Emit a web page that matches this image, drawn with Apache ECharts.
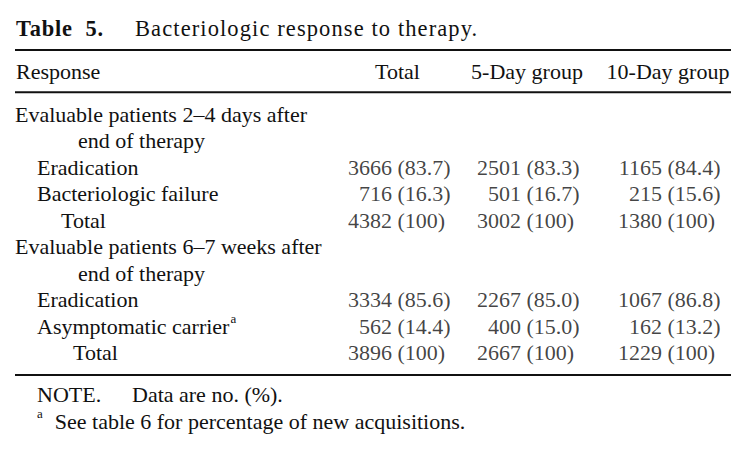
<!DOCTYPE html>
<html>
<head>
<meta charset="utf-8">
<title>Table 5</title>
<script src="https://cdn.jsdelivr.net/npm/echarts@6/dist/echarts.min.js"></script>
<style>
  html, body { margin: 0; padding: 0; background: #fff; }
  #main { width: 750px; height: 454px; }
  /* the caption is set a little loose, like the print */
  #main text[style*="22.5px"] { letter-spacing: 1.1px; }
  #main text[style*="22.4px"] { letter-spacing: 0.8px; }
</style>
</head>
<body>
<div id="main"></div>
<script>
// rows of the table (stub column)
var rowLabels = [
  'Evaluable patients 2\u20134 days after',
  'end of therapy',
  'Eradication',
  'Bacteriologic failure',
  'Total',
  'Evaluable patients 6\u20137 weeks after',
  'end of therapy',
  'Eradication',
  'Asymptomatic carrier',
  'Total'
];
var rowLevel = [0, 1, 2, 2, 3, 0, 1, 2, 2, 4];
var rowMark = ['', '', '', '', '', '', '', '', 'a', ''];

var columns = ['Total', '5-Day group', '10-Day group'];

// no. and (%) per column, one entry per row
var totalN   = [null, null, 3666, 716, 4382, null, null, 3334, 562, 3896];
var totalPct = [null, null, 83.7, 16.3, 100, null, null, 85.6, 14.4, 100];
var fiveN    = [null, null, 2501, 501, 3002, null, null, 2267, 400, 2667];
var fivePct  = [null, null, 83.3, 16.7, 100, null, null, 85.0, 15.0, 100];
var tenN     = [null, null, 1165, 215, 1380, null, null, 1067, 162, 1229];
var tenPct   = [null, null, 84.4, 15.6, 100, null, null, 86.8, 13.2, 100];

var counts = [totalN, fiveN, tenN];
var pcts = [totalPct, fivePct, tenPct];

var FONT = '"Liberation Serif", "Times New Roman", serif';
var INK = '#111';

// layout
var indent = [0, 63, 22, 46, 58];
var countShift = [0, -6, 0];
var pctShift = [5.5, -0.5, 5.5];

function fmtPct(v) {
  return v === 100 ? '100' : v.toFixed(1);
}

var rowRich = {
  sup: { fontSize: 13, padding: [0, 0, 16, 1] }
};
indent.forEach(function (w, i) {
  rowRich['l' + i] = { padding: [0, 0, 0, w] };
});

var series = [];
columns.forEach(function (col, c) {
  var cells = [];
  counts[c].forEach(function (n, r) {
    if (n != null) cells.push([c, r, n, pcts[c][r]]);
  });
  var base = {
    type: 'scatter',
    data: cells,
    symbolSize: 1,
    silent: true,
    itemStyle: { color: 'rgba(0,0,0,0)' }
  };
  series.push(Object.assign({}, base, {
    name: col + ' no.',
    label: {
      show: true, position: 'inside', align: 'right', offset: [countShift[c], 0],
      color: INK, fontFamily: FONT, fontSize: 22,
      formatter: function (p) { return String(p.value[2]); }
    }
  }));
  series.push(Object.assign({}, base, {
    name: col + ' %',
    label: {
      show: true, position: 'inside', align: 'left', offset: [pctShift[c], 0],
      color: INK, fontFamily: FONT, fontSize: 22,
      formatter: function (p) { return '(' + fmtPct(p.value[3]) + ')'; }
    }
  }));
});

var chart = echarts.init(document.getElementById('main'), null, { renderer: 'svg' });

var option = {
  animation: false,
  backgroundColor: '#fff',
  grid: { left: 324.5, right: 20.5, top: 114, bottom: 101.5, outerBoundsMode: 'none' },
  xAxis: {
    type: 'category',
    position: 'top',
    data: columns,
    boundaryGap: true,
    axisLine: { show: false },
    axisTick: { show: false },
    splitLine: { show: false },
    axisLabel: {
      interval: 0, margin: 32, color: INK, fontFamily: FONT, fontSize: 22,
      formatter: function (v, i) { return '{h' + i + '|' + v + '}'; },
      rich: {
        h0: { padding: [0, 0, 0, 11] },
        h1: {},
        h2: { padding: [0, 0, 0, 12] }
      }
    }
  },
  yAxis: {
    type: 'category',
    inverse: true,
    boundaryGap: false,
    data: rowLabels,
    axisLine: { show: false },
    axisTick: { show: false },
    splitLine: { show: false },
    axisLabel: {
      interval: 0, align: 'left', margin: 309.5,
      color: INK, fontFamily: FONT, fontSize: 22,
      formatter: function (v, i) {
        var s = '{l' + rowLevel[i] + '|' + v + '}';
        if (rowMark[i]) s += '{sup|' + rowMark[i] + '}';
        return s;
      },
      rich: rowRich
    }
  },
  graphic: [
    { type: 'text', x: 16, y: 28, silent: true,
      style: { text: 'Table  5.', font: 'bold 22.4px ' + FONT, fill: INK, verticalAlign: 'middle' } },
    { type: 'text', x: 135, y: 28, silent: true,
      style: { text: 'Bacteriologic response to therapy.', font: '22.5px ' + FONT, fill: INK, verticalAlign: 'middle' } },
    { type: 'line', silent: true, shape: { x1: 15, y1: 50, x2: 731, y2: 50 }, style: { stroke: INK, lineWidth: 2 } },
    { type: 'text', x: 16, y: 71, silent: true,
      style: { text: 'Response', font: '22px ' + FONT, fill: INK, verticalAlign: 'middle' } },
    { type: 'line', silent: true, shape: { x1: 15, y1: 92.3, x2: 731, y2: 92.3 }, style: { stroke: INK, lineWidth: 2 } },
    { type: 'line', silent: true, shape: { x1: 15, y1: 375, x2: 731, y2: 375 }, style: { stroke: INK, lineWidth: 2 } },
    { type: 'text', x: 37, y: 394.5, silent: true,
      style: { text: 'NOTE.', font: '22px ' + FONT, fill: INK, verticalAlign: 'middle' } },
    { type: 'text', x: 132, y: 394.5, silent: true,
      style: { text: 'Data are no. (%).', font: '22px ' + FONT, fill: INK, verticalAlign: 'middle' } },
    { type: 'text', x: 37, y: 421, silent: true,
      style: {
        text: '{s|a}See table 6 for percentage of new acquisitions.',
        font: '22px ' + FONT, fill: INK, verticalAlign: 'middle',
        rich: { s: { font: '13px ' + FONT, fill: INK, padding: [0, 12, 16, 0] } }
      } }
  ],
  series: series
};

chart.setOption(option);
</script>
</body>
</html>
